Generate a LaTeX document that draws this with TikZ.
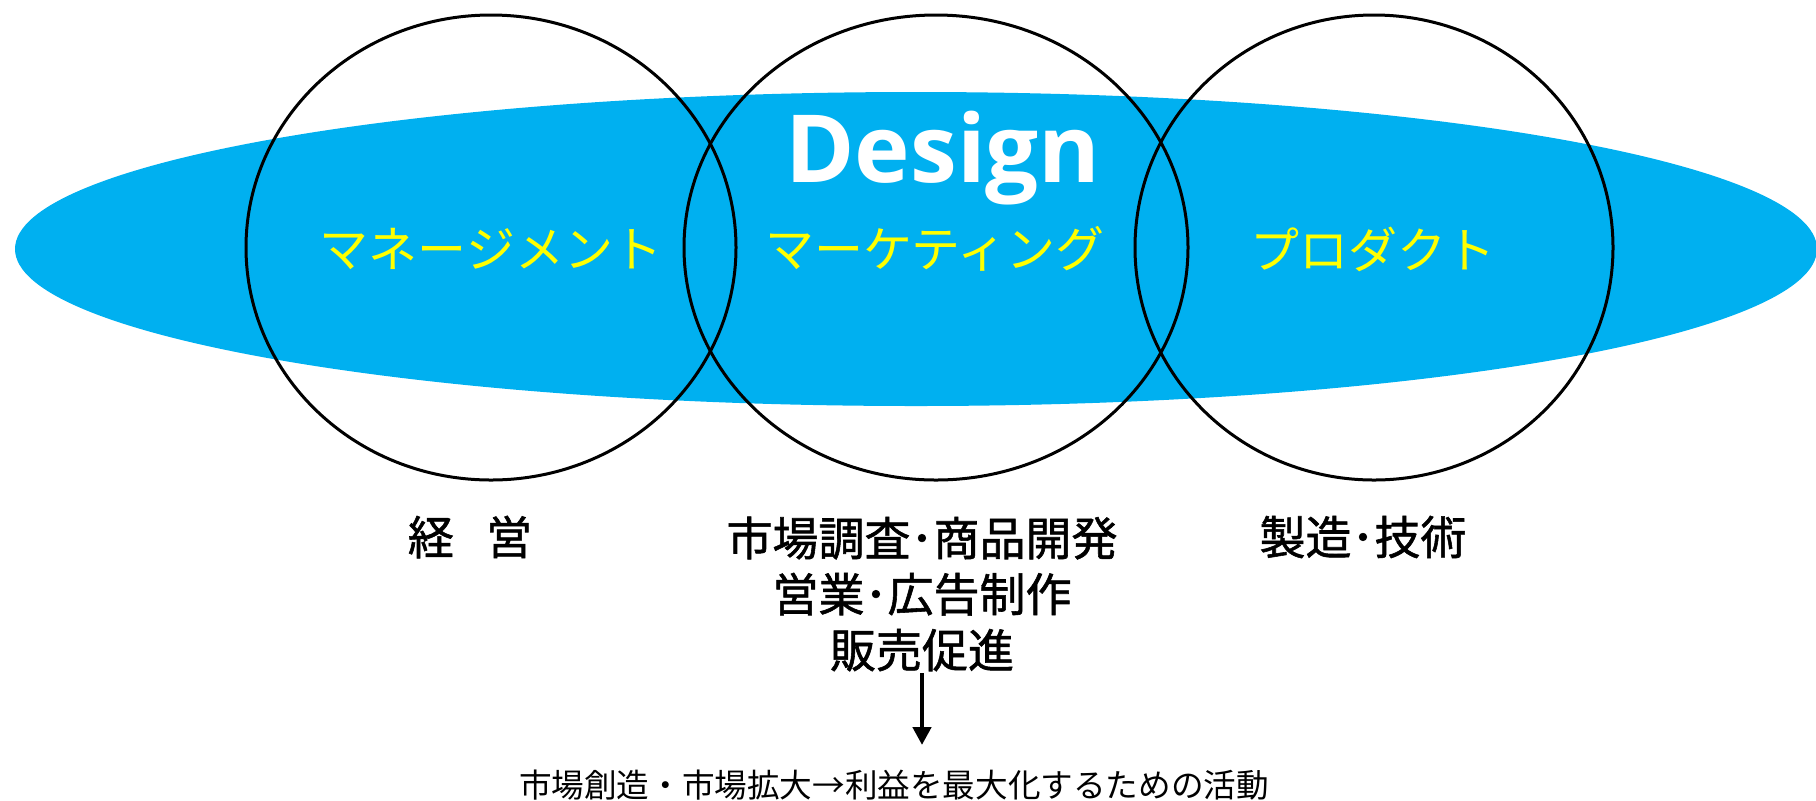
\documentclass[tikz,border=0pt]{standalone}
\usepackage{fontspec}
\setmainfont{Noto Sans CJK JP}
\newfontfamily\fieldfont{Noto Sans CJK JP}[FakeBold=1.2]
\newfontfamily\designfont{Open Sans}
\usetikzlibrary{arrows.meta}
\definecolor{designblue}{HTML}{00B0F0}
\definecolor{kanayellow}{HTML}{FFFF00}
\tikzset{
  ring/.style={draw=black, line width=1.5pt},
  kana/.style={text=kanayellow, inner sep=0pt, font=\fontsize{24.5pt}{28pt}\selectfont},
  field/.style={text=black, inner sep=0pt, align=center, font=\fieldfont\fontsize{23pt}{28pt}\selectfont},
  goaltext/.style={text=black, inner sep=0pt, font=\fontsize{16.3pt}{18pt}\selectfont},
  flow/.style={draw=black, line width=2.3pt, -{Triangle[width=9pt,length=9pt]}}
}
\begin{document}
\begin{tikzpicture}[x=0.5pt,y=-0.5pt]
\useasboundingbox (0,0) rectangle (1816,800);
% big design ellipse
\fill[designblue] (916,249) ellipse [x radius=901, y radius=157];
% three rings
\draw[ring] (491,247.5) ellipse [x radius=245, y radius=232.5];
\draw[ring] (936,247.5) ellipse [x radius=252, y radius=232.5];
\draw[ring] (1374,247.5) ellipse [x radius=239, y radius=232.5];
% texts
\node[anchor=base, text=white, inner sep=0pt, font=\designfont\bfseries\fontsize{47pt}{52pt}\selectfont] (design) at (943,182) {Design};
\node[kana] (mgmt) at (491,249) {マネージメント};
\node[kana] (mkt) at (935,249) {マーケティング};
\node[kana] (prod) at (1373,249) {プロダクト};
\node[field] (keiei) at (470,537) {経\hspace{0.7em}営};
\node[field] (mktwork) at (922,594) {市場調査･商品開発\\営業･広告制作\\販売促進};
\node[field] (seizo) at (1363,537) {製造･技術};
\node[goaltext] (goal) at (894,785) {市場創造・市場拡大→利益を最大化するための活動};
\coordinate (arrowtop) at (922,673);
\coordinate (arrowtip) at (922,745);
\draw[flow] (arrowtop) -- (arrowtip);
\end{tikzpicture}
\end{document}
